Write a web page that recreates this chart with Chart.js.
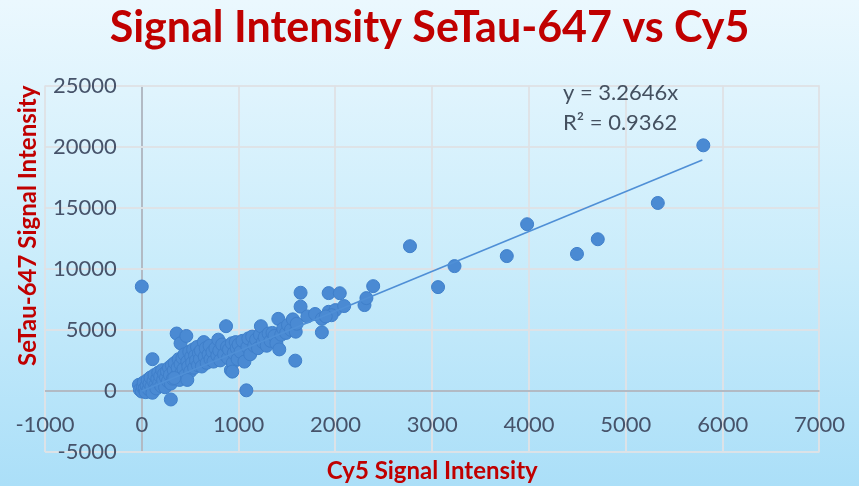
<!DOCTYPE html>
<html>
<head>
<meta charset="utf-8">
<title>Signal Intensity SeTau-647 vs Cy5</title>
<script src="https://cdn.jsdelivr.net/npm/chart.js@4.4.0/dist/chart.umd.min.js"></script>
<style>
    html, body {
        margin: 0;
        padding: 0;
    }
    body {
        width: 859px;
        height: 486px;
        overflow: hidden;
        background: linear-gradient(to bottom, #ebf8fe 0%, #c9ecfb 55%, #abdff8 100%);
    }
    canvas {
        display: block;
    }
</style>
</head>
<body>
<canvas id="chart" width="859" height="486"></canvas>
<script>
// Cy5 (x) vs SeTau-647 (y)
const cy5 = [
    -30, -20, 0, 10, 20, 30, 40, 50, 60, 70, 80, 90, 100, 110, 120, 130, 140, 150, 160, 170,
    180, 190, 200, 210, 220, 230, 240, 250, 110, 300, 0,
    260, 270, 280, 290, 300, 310, 320, 330, 340, 350, 360, 370, 380, 390, 400, 400, 410, 420, 430,
    440, 450, 460, 470, 480, 490, 500, 510, 520, 530, 540, 550, 560, 570, 580, 590, 600,
    610, 620, 640, 650, 660, 670, 690, 700, 710, 730, 740, 760, 780, 790, 800, 810, 830, 850,
    870, 880, 890, 900, 920, 930, 940, 950, 970, 980, 990, 1000, 935, 470, 335,
    1020, 1040, 1060, 1080, 1090, 1100, 1120, 1140, 1160, 1180, 1200, 1220, 1230, 1250, 1270, 1290,
    1310, 1330, 1350, 1370, 1390, 1410, 1420, 1440, 1460, 1490, 1510, 1540, 1560, 1585, 1590, 1600,
    1640, 1640, 1710, 1790, 1860, 1860, 1930, 1930, 2000, 2045, 2090, 1960, 1900,
    2300, 2320, 2390, 2770, 3060, 3230, 3770, 3980, 4495, 4710, 5330, 5800
];
const setau = [
    500, 100, -50, 300, 700, 200, -100, 450, 900, 150, 600, 1100, 350, -150, 800, 1300, 500, 200, 1000, 1500,
    650, 1200, 400, 1700, 900, 1400, 300, 1100, 2600, -700, 8550,
    1600, 800, 1900, 1300, 600, 2100, 1000, 1700, 2300, 1200, 4700, 1900, 2600, 900, 3900, 2200, 1500, 2700, 1800,
    3000, 1300, 4500, 2400, 2000, 3200, 1600, 2800, 2300, 3400, 1900, 2900, 2500, 3600, 2100, 3100, 2600,
    3300, 2000, 4000, 2800, 3500, 2300, 3000, 3700, 2600, 3200, 2400, 3500, 2900, 4200, 3300, 2500, 3800, 3000,
    5300, 3600, 2700, 3400, 1700, 3900, 2300, 3100, 4000, 3500, 2600, 3800, 1580, 900, 1060,
    3200, 4100, 2400, 50, 3600, 4300, 3000, 4450, 3700, 4200, 3500, 4600, 5300, 4000, 4400, 3700,
    4700, 4100, 4750, 4500, 3900, 5900, 3400, 4600, 5100, 4750, 5400, 5000, 5860, 2480, 4850, 5500,
    8040, 6900, 6100, 6300, 5900, 4800, 6480, 8010, 6620, 8000, 6950, 6200, 6100,
    7030, 7600, 8580, 11850, 8500, 10220, 11040, 13650, 11220, 12420, 15390, 20110
];

// linear trendline through the origin, ends
const trendX = [0, 5790];
const trendY = [0, 18900];

const xTicks = { min: -1000, max: 7000, step: 1000 };
const yTicks = { min: -5000, max: 25000, step: 5000 };

const equationLines = ['y = 3.2646x', 'R² = 0.9362'];

const RED = '#c00000';
const LABEL = '#46536a';
const GRID = 'rgba(222, 226, 230, 0.95)';
const AXIS = '#b2bac4';
const DOT = '#4a8ad3';
const FONT = 'Lato, "Open Sans", sans-serif';

const points = cy5.map((x, i) => ({ x: x, y: setau[i] }));
const trend = trendX.map((x, i) => ({ x: x, y: trendY[i] }));

// equation of the trendline, top right of the plot
const equationLabel = {
    id: 'equationLabel',
    afterDatasetsDraw(chart) {
        const { ctx, chartArea } = chart;
        ctx.save();
        ctx.font = '22px ' + FONT;
        ctx.fillStyle = '#44505f';
        ctx.textAlign = 'left';
        ctx.textBaseline = 'middle';
        const left = chartArea.left + 518;
        equationLines.forEach((line, i) => {
            ctx.fillText(line, left, chartArea.top + 7 + i * 30);
        });
        ctx.restore();
    }
};

const gridColor = (ctx) => (ctx.tick && ctx.tick.value === 0 ? AXIS : GRID);

new Chart(document.getElementById('chart'), {
    type: 'scatter',
    data: {
        datasets: [
            {
                type: 'line',
                label: 'Trendline',
                data: trend,
                borderColor: '#4f8fd6',
                borderWidth: 1.6,
                pointRadius: 0,
                fill: false,
                order: 0
            },
            {
                label: 'SeTau-647 vs Cy5',
                data: points,
                backgroundColor: DOT,
                borderColor: '#3f7fca',
                borderWidth: 1,
                pointRadius: 6.5,
                order: 1
            }
        ]
    },
    options: {
        responsive: false,
        animation: false,
        layout: {
            padding: 0
        },
        plugins: {
            legend: { display: false },
            tooltip: { enabled: false },
            title: {
                display: true,
                text: 'Signal Intensity SeTau-647 vs Cy5',
                color: RED,
                font: { family: FONT, size: 43, weight: 'bold' },
                padding: { top: 2, bottom: 32 }
            }
        },
        scales: {
            x: {
                type: 'linear',
                position: 'bottom',
                min: xTicks.min,
                max: xTicks.max,
                afterFit: (scale) => { scale.height = 34; },
                ticks: {
                    stepSize: xTicks.step,
                    color: LABEL,
                    mirror: true,
                    padding: 14,
                    maxRotation: 0,
                    font: { family: FONT, size: 22 },
                    callback: (v) => String(v)
                },
                grid: {
                    color: gridColor,
                    lineWidth: 2,
                    drawTicks: false
                },
                border: { display: false },
                title: {
                    display: true,
                    text: 'Cy5 Signal Intensity',
                    color: RED,
                    font: { family: FONT, size: 24, weight: 'bold' },
                    padding: { top: 0, bottom: 0 }
                }
            },
            y: {
                type: 'linear',
                position: 'left',
                min: yTicks.min,
                max: yTicks.max,
                afterFit: (scale) => { scale.width = 45; },
                ticks: {
                    stepSize: yTicks.step,
                    color: LABEL,
                    mirror: true,
                    crossAlign: 'far',
                    padding: 8,
                    font: { family: FONT, size: 22 },
                    callback: (v) => String(v)
                },
                grid: {
                    color: gridColor,
                    lineWidth: 2,
                    drawTicks: false
                },
                border: { display: false },
                title: {
                    display: true,
                    text: 'SeTau-647 Signal Intensity',
                    align: 'end',
                    color: RED,
                    font: { family: FONT, size: 24, weight: 'bold' },
                    padding: { top: 14, bottom: 0 }
                }
            },
            // empty right-hand strip, keeps the plot off the right edge
            yRight: {
                type: 'linear',
                position: 'right',
                afterFit: (scale) => { scale.width = 37; },
                ticks: { display: false },
                grid: { display: false },
                border: { display: false }
            }
        }
    },
    plugins: [equationLabel]
});
</script>
</body>
</html>
